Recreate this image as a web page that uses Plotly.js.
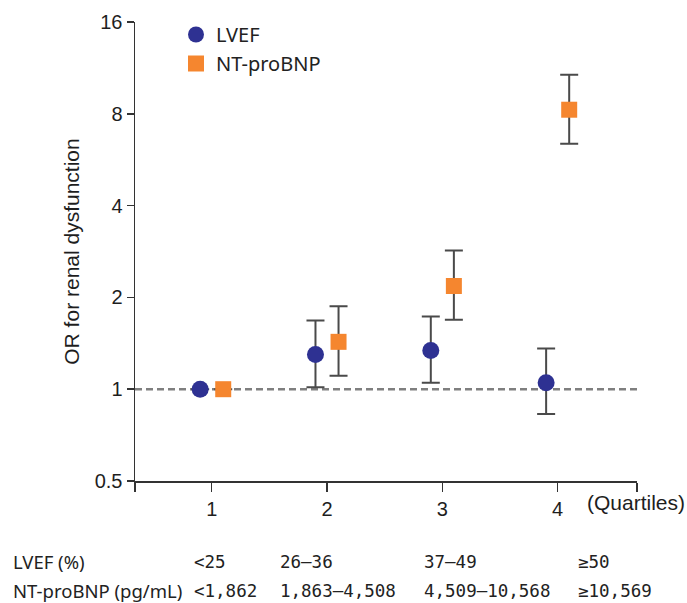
<!DOCTYPE html>
<html>
<head>
<meta charset="utf-8">
<script src="https://cdn.plot.ly/plotly-3.0.1.min.js"></script>
<style>html,body{margin:0;padding:0;background:#fff;}#chart{width:687px;height:603px;}</style>
</head>
<body>
<div id="chart"></div>
<script>
// ---- data ----
const quartiles = [1, 2, 3, 4];
const seriesNames = ['LVEF', 'NT-proBNP'];
const lvefOR = [1.0, 1.30, 1.34, 1.05];
const lvefUpper = [null, 1.68, 1.73, 1.36];
const lvefLower = [null, 1.015, 1.05, 0.83];
const ntOR = [1.0, 1.43, 2.18, 8.25];
const ntUpper = [null, 1.87, 2.85, 10.75];
const ntLower = [null, 1.106, 1.69, 6.38];
const yTickVals = [0.5, 1, 2, 4, 8, 16];
const yTickText = ['0.5', '1', '2', '4', '8', '16'];
const xTickText = ['1', '2', '3', '4'];
const rowLabels = ['LVEF (%)', 'NT-proBNP (pg/mL)'];
const lvefRanges = ['<25', '26\u201336', '37\u201349', '\u226550'];
const ntRanges = ['<1,862', '1,863\u20134,508', '4,509\u201310,568', '\u226510,569'];
const refLine = 1;

// ---- styles / layout constants ----
const W = 687, H = 603;
const M = {l: 135, r: 50, t: 22, b: 122};
const plotW = W - M.l - M.r, plotH = H - M.t - M.b;
const xRange = [0.335, 4.688];
const offset = 0.1;
const navy = '#2e3192', orange = '#f5862f';
const errColor = '#4a4a4a';
const tickFont = {family: 'Liberation Sans, Arial, sans-serif', size: 20, color: '#1e1e1e'};
const labelFont = 'Noto Sans, sans-serif';
const valueFont = 'DejaVu Sans Mono, monospace';
const px2x = p => (p - M.l) / plotW;
const px2y = p => (H - M.b - p) / plotH;

function plusMinus(vals, hi, lo) {
  return {
    plus: vals.map((v, i) => hi[i] == null ? null : hi[i] - v),
    minus: vals.map((v, i) => lo[i] == null ? null : v - lo[i])
  };
}
const eL = plusMinus(lvefOR, lvefUpper, lvefLower);
const eN = plusMinus(ntOR, ntUpper, ntLower);

const traces = [
  {
    x: quartiles.map(q => q - offset), y: lvefOR, name: seriesNames[0],
    type: 'scatter', mode: 'markers',
    marker: {symbol: 'circle', size: 17, color: navy},
    error_y: {type: 'data', symmetric: false, array: eL.plus, arrayminus: eL.minus,
      color: errColor, thickness: 2, width: 9}
  },
  {
    x: quartiles.map(q => q + offset), y: ntOR, name: seriesNames[1],
    type: 'scatter', mode: 'markers',
    marker: {symbol: 'square', size: 16, color: orange},
    error_y: {type: 'data', symmetric: false, array: eN.plus, arrayminus: eN.minus,
      color: errColor, thickness: 2, width: 9}
  }
];

const colX = [11.7, 192.7, 279.3, 422.7, 577.3];
const rowY = [561.7, 590.5];
const annotations = [];
[ [rowLabels[0]].concat(lvefRanges), [rowLabels[1]].concat(ntRanges) ].forEach((row, r) => {
  row.forEach((t, c) => {
    annotations.push({
      xref: 'paper', yref: 'paper', x: px2x(colX[c]), y: px2y(rowY[r]),
      xanchor: 'left', yanchor: 'middle', showarrow: false, text: t, borderpad: 0,
      font: c === 0 ? {family: labelFont, size: 18.5, color: '#222'}
                    : {family: valueFont, size: 17.5, color: '#222'}
    });
  });
});
annotations.push({
  xref: 'paper', yref: 'paper', x: px2x(687), y: px2y(502),
  xanchor: 'right', yanchor: 'middle', showarrow: false, text: '(Quartiles)',
  font: {family: tickFont.family, size: 21, color: '#1e1e1e'}
});

const layout = {
  width: W, height: H, margin: M,
  paper_bgcolor: '#fff', plot_bgcolor: '#fff',
  showlegend: true,
  legend: {x: px2x(176), y: px2y(15), xanchor: 'left', yanchor: 'top',
    font: {family: labelFont, size: 20, color: '#222'}, bgcolor: 'rgba(0,0,0,0)'},
  xaxis: {
    range: xRange, tickvals: [xRange[0]].concat(quartiles, [xRange[1]]),
    ticktext: [''].concat(xTickText, ['']),
    showline: true, linecolor: '#333', linewidth: 1.5,
    ticks: 'outside', ticklen: 9, tickwidth: 1.5, tickcolor: '#333',
    showgrid: false, zeroline: false, tickfont: tickFont
  },
  yaxis: {
    type: 'log', range: [Math.log10(0.5), Math.log10(16)],
    tickvals: yTickVals, ticktext: yTickText,
    showline: true, linecolor: '#333', linewidth: 1.5,
    ticks: 'outside', ticklen: 7, tickwidth: 1.5, tickcolor: '#333',
    showgrid: false, zeroline: false, tickfont: tickFont,
    title: {text: 'OR for renal dysfunction', standoff: 9,
      font: {family: tickFont.family, size: 21, color: '#1e1e1e'}}
  },
  shapes: [{
    type: 'line', xref: 'paper', yref: 'y', x0: 0, x1: 1, y0: refLine, y1: refLine,
    layer: 'below', line: {color: '#7f7f7f', width: 2.5, dash: '7px,4px'}
  }],
  annotations: annotations
};

Plotly.newPlot('chart', traces, layout, {displayModeBar: false, staticPlot: true});
</script>
</body>
</html>
